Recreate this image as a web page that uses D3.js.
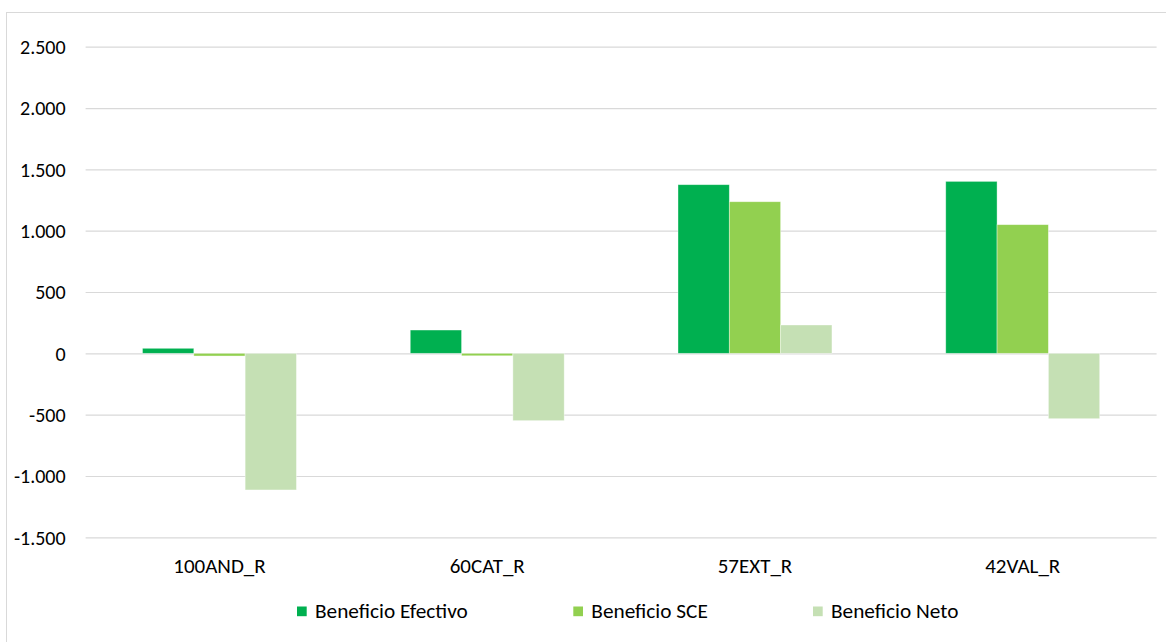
<!DOCTYPE html>
<html><head><meta charset="utf-8">
<script src="https://cdn.jsdelivr.net/npm/d3@7"></script>
<style>
html,body{margin:0;padding:0;background:#fff;}
text{font-family:Carlito, Calibri, Lato, "Open Sans", sans-serif;fill:#000;}
</style></head>
<body><svg id="c" width="1166" height="642"></svg>
<script>
const categories = ["100AND_R","60CAT_R","57EXT_R","42VAL_R"];
const seriesNames = ["Beneficio Efectivo","Beneficio SCE","Beneficio Neto"];
const efectivo = [41, 190, 1375, 1402];
const sce = [-22, -20, 1236, 1049];
const neto = [-1114, -549, 231, -533];
const yTicks = [-1500,-1000,-500,0,500,1000,1500,2000,2500];
const colors = ["#00B050","#92D050","#C5E0B4"];

const series = [efectivo, sce, neto];
const svg = d3.select("#c");
const margin = {left:85.6, right:1156.6, top:46.7, bottom:537.3};

// outer frame
svg.append("rect").attr("x",6.5).attr("y",12.5).attr("width",1170).attr("height",640)
  .attr("fill","none").attr("stroke","#d9d9d9").attr("stroke-width",1);

const x = d3.scaleBand().domain(categories).range([margin.left, margin.right]).padding(0);
const y = d3.scaleLinear().domain([-1500,2500]).range([margin.bottom, margin.top]);
const groupFrac = 0.575;
const x1 = d3.scaleBand().domain(d3.range(3)).range([0, x.bandwidth()*groupFrac]).padding(0);

const fmt = v => d3.format(",")(v).replace(/,/g,".").replace("\u2212","-");

// gridlines
const yAxis = d3.axisLeft(y).tickValues(yTicks).tickSize(-(margin.right-margin.left)).tickFormat(fmt).tickPadding(20);
const gy = svg.append("g").attr("transform",`translate(${margin.left},0)`).call(yAxis);
gy.select(".domain").remove();
gy.selectAll(".tick line").attr("stroke","#d9d9d9").attr("stroke-width",1.2);
gy.selectAll(".tick text").attr("font-size","20px").attr("x",-20).attr("dy","0.34em");

// bars
const groups = svg.append("g").selectAll("g").data(categories).join("g")
  .attr("transform", c => `translate(${x(c) + x.bandwidth()*(1-groupFrac)/2},0)`);
groups.selectAll("rect").data((c,i) => series.map((s,k) => ({k, v:s[i]}))).join("rect")
  .attr("x", d => x1(d.k))
  .attr("width", x1.bandwidth())
  .attr("y", d => Math.min(y(d.v), y(0)))
  .attr("height", d => Math.abs(y(d.v)-y(0)))
  .attr("fill", d => colors[d.k])
  .attr("stroke","#ffffff").attr("stroke-opacity",0.5).attr("stroke-width",0.75);

// category axis labels
const xAxis = d3.axisBottom(x).tickSize(0).tickPadding(0);
const gx = svg.append("g").attr("transform",`translate(0,${margin.bottom})`).call(xAxis);
gx.select(".domain").remove();
gx.selectAll(".tick text").attr("font-size","21px").attr("y",36).attr("dy",0);

// legend
const legendX = [297, 573.3, 813];
const leg = svg.append("g").selectAll("g").data(seriesNames).join("g")
  .attr("transform",(d,i)=>`translate(${legendX[i]},606.5)`);
leg.append("rect").attr("width",9.7).attr("height",9.7).attr("fill",(d,i)=>colors[i]);
leg.append("text").attr("x",18).attr("y",11.8).attr("font-size","21.3px").text(d=>d);
</script></body></html>
